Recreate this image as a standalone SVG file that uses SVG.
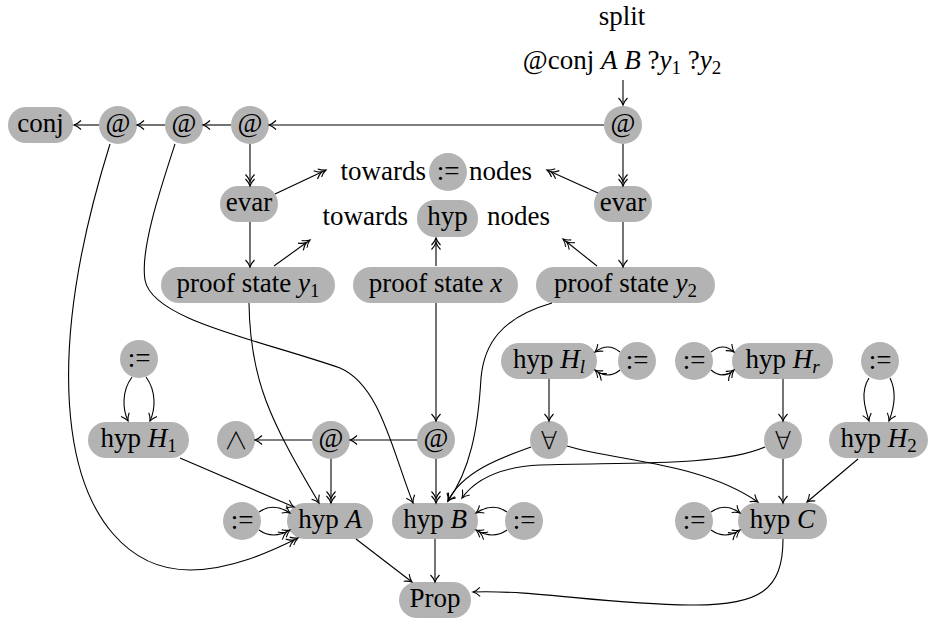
<svg xmlns="http://www.w3.org/2000/svg" width="929" height="618" viewBox="0 0 929 618">
<style>
.n{fill:#b3b3b3;stroke:none}
.t{font-family:"Liberation Serif","DejaVu Serif",serif;font-size:27px;fill:#000;text-anchor:middle}
.m{font-family:"DejaVu Sans","Liberation Serif",sans-serif;font-size:25px;font-weight:200}
.w{font-family:"Noto Sans CJK SC","DejaVu Sans",sans-serif;font-size:24px;font-weight:300}
.l{text-anchor:start}
.r{text-anchor:end}
.i{font-style:italic}
.s{font-size:19px}
.e{fill:none;stroke:#000;stroke-width:1.1}
</style>
<defs>
<marker id="a1" markerUnits="userSpaceOnUse" markerWidth="16" markerHeight="14" viewBox="-14 -7 16 14" refX="0" refY="0" orient="auto" overflow="visible">
<path d="M-7,-4.5 C-4.5,-2 -1.8,-0.6 0,0 C-1.8,0.6 -4.5,2 -7,4.5" fill="none" stroke="#000" stroke-width="1.1"/>
</marker>
<marker id="a2" markerUnits="userSpaceOnUse" markerWidth="16" markerHeight="14" viewBox="-14 -7 16 14" refX="0" refY="0" orient="auto" overflow="visible">
<path d="M-7,-4.5 C-4.5,-2 -1.8,-0.6 0,0 C-1.8,0.6 -4.5,2 -7,4.5 M-11.5,-4.5 C-9,-2 -6.3,-0.6 -4.5,0 C-6.3,0.6 -9,2 -11.5,4.5" fill="none" stroke="#000" stroke-width="1.1"/>
</marker>
</defs>

<g id="labels">
<text class="t" x="622" y="25">split</text>
<text class="t" x="622" y="69">@conj <tspan class="i">A</tspan> <tspan class="i">B</tspan> ?<tspan class="i">y</tspan><tspan class="s" dy="5">1</tspan><tspan dy="-5"> ?</tspan><tspan class="i">y</tspan><tspan class="s" dy="5">2</tspan></text>
</g>

<g id="conj"><rect class="n" x="8" y="107" width="65" height="36" rx="18"/><text class="t" x="40.5" y="132">conj</text></g>
<g id="at1"><circle class="n" cx="118" cy="125" r="19"/><text class="t" x="118" y="132">@</text></g>
<g id="at2"><circle class="n" cx="184" cy="125" r="19"/><text class="t" x="184" y="132">@</text></g>
<g id="at3"><circle class="n" cx="250" cy="125" r="19"/><text class="t" x="250" y="132">@</text></g>
<g id="at4"><circle class="n" cx="623" cy="125" r="19"/><text class="t" x="623" y="132">@</text></g>

<g id="evarL"><rect class="n" x="220" y="186" width="58" height="36" rx="18"/><text class="t" x="249" y="211">evar</text></g>
<g id="evarR"><rect class="n" x="594" y="186" width="58" height="36" rx="18"/><text class="t" x="623" y="211">evar</text></g>

<g id="towardsAssign">
<text class="t r" x="426" y="180">towards</text>
<circle class="n" cx="448" cy="172" r="19"/><text class="t" x="448" y="180">:=</text>
<text class="t l" x="469" y="180">nodes</text>
</g>
<g id="towardsHyp">
<text class="t r" x="408" y="225">towards</text>
<rect class="n" x="417" y="200" width="61" height="37" rx="18"/><text class="t" x="447.5" y="225">hyp</text>
<text class="t l" x="487" y="225">nodes</text>
</g>

<g id="psY1"><rect class="n" x="161" y="267" width="174" height="36" rx="18"/><text class="t" x="248" y="292">proof state <tspan class="i">y</tspan><tspan class="s" dy="5">1</tspan></text></g>
<g id="psX"><rect class="n" x="353" y="267" width="165" height="36" rx="18"/><text class="t" x="435.5" y="292">proof state <tspan class="i">x</tspan></text></g>
<g id="psY2"><rect class="n" x="536" y="267" width="179" height="36" rx="18"/><text class="t" x="625.5" y="292">proof state <tspan class="i">y</tspan><tspan class="s" dy="5">2</tspan></text></g>

<g id="ceqTL"><circle class="n" cx="139" cy="359" r="19"/><text class="t" x="139" y="367">:=</text></g>
<g id="hypH1"><rect class="n" x="88" y="422" width="101" height="36" rx="18"/><text class="t" x="138.5" y="447">hyp <tspan class="i">H</tspan><tspan class="s" dy="5">1</tspan></text></g>
<g id="wedge"><circle class="n" cx="236" cy="440" r="19"/><text class="t w" x="236" y="449">∧</text></g>
<g id="atM1"><circle class="n" cx="331" cy="440" r="19"/><text class="t" x="331" y="447">@</text></g>
<g id="atM2"><circle class="n" cx="436" cy="440" r="19"/><text class="t" x="436" y="447">@</text></g>

<g id="ceqA"><circle class="n" cx="242" cy="521" r="19"/><text class="t" x="242" y="529">:=</text></g>
<g id="hypA"><rect class="n" x="287" y="503" width="86" height="36" rx="18"/><text class="t" x="330" y="528">hyp <tspan class="i">A</tspan></text></g>
<g id="hypB"><rect class="n" x="392" y="503" width="86" height="36" rx="18"/><text class="t" x="435" y="528">hyp <tspan class="i">B</tspan></text></g>
<g id="ceqB"><circle class="n" cx="524" cy="521" r="19"/><text class="t" x="524" y="529">:=</text></g>
<g id="prop"><rect class="n" x="399" y="582" width="72" height="36" rx="18"/><text class="t" x="435" y="607">Prop</text></g>

<g id="hypHl"><rect class="n" x="501" y="343" width="96" height="36" rx="18"/><text class="t" x="549" y="368">hyp <tspan class="i">H</tspan><tspan class="s i" dy="5">l</tspan></text></g>
<g id="ceqHl"><circle class="n" cx="637" cy="361" r="19"/><text class="t" x="637" y="369">:=</text></g>
<g id="ceqHr"><circle class="n" cx="694" cy="361" r="19"/><text class="t" x="694" y="369">:=</text></g>
<g id="hypHr"><rect class="n" x="732" y="343" width="101" height="36" rx="18"/><text class="t" x="782.5" y="368">hyp <tspan class="i">H</tspan><tspan class="s i" dy="5">r</tspan></text></g>
<g id="ceqTR"><circle class="n" cx="880" cy="361" r="19"/><text class="t" x="880" y="369">:=</text></g>
<g id="forallL"><circle class="n" cx="549" cy="440" r="19"/><text class="t m" x="549" y="449">∀</text></g>
<g id="forallR"><circle class="n" cx="783" cy="440" r="19"/><text class="t m" x="783" y="449">∀</text></g>
<g id="hypH2"><rect class="n" x="829" y="422" width="99" height="36" rx="18"/><text class="t" x="878.5" y="447">hyp <tspan class="i">H</tspan><tspan class="s" dy="5">2</tspan></text></g>
<g id="ceqC"><circle class="n" cx="694" cy="521" r="19"/><text class="t" x="694" y="529">:=</text></g>
<g id="hypC"><rect class="n" x="738" y="503" width="89" height="36" rx="18"/><text class="t" x="782.5" y="528">hyp <tspan class="i">C</tspan></text></g>

<g id="connectors" class="e">
<path class="e" d="M623,80 V105" marker-end="url(#a1)"/>
<path class="e" d="M604,125 H269" marker-end="url(#a1)"/>
<path class="e" d="M231,125 H203" marker-end="url(#a1)"/>
<path class="e" d="M165,125 H137" marker-end="url(#a1)"/>
<path class="e" d="M99,125 H74" marker-end="url(#a1)"/>
<path class="e" d="M250,144 V186" marker-end="url(#a2)"/>
<path class="e" d="M623,144 V186" marker-end="url(#a2)"/>
<path class="e" d="M275,194 L326,170" marker-end="url(#a2)"/>
<path class="e" d="M598,193 L547,170" marker-end="url(#a2)"/>
<path class="e" d="M250,222 V267" marker-end="url(#a1)"/>
<path class="e" d="M623,222 V267" marker-end="url(#a1)"/>
<path class="e" d="M274,266 L310,240" marker-end="url(#a2)"/>
<path class="e" d="M436,266 V238" marker-end="url(#a2)"/>
<path class="e" d="M597,266 L563,239" marker-end="url(#a2)"/>
<path class="e" d="M436,303 V421" marker-end="url(#a1)"/>
<path class="e" d="M417,440 H350" marker-end="url(#a1)"/>
<path class="e" d="M312,440 H255" marker-end="url(#a1)"/>
<path class="e" d="M331,459 V503" marker-end="url(#a2)"/>
<path class="e" d="M436,459 V503" marker-end="url(#a2)"/>
<path class="e" d="M356,539 L412,582" marker-end="url(#a1)"/>
<path class="e" d="M435,539 V582" marker-end="url(#a1)"/>
<path class="e" d="M783,539 C783,590 760,606 690,605 C600,604 540,590 473,592" marker-end="url(#a1)"/>
<path class="e" d="M132,377 C121,392 123,410 128,421" marker-end="url(#a1)"/>
<path class="e" d="M146,377 C157,392 155,410 150,421" marker-end="url(#a1)"/>
<path class="e" d="M869,378 C860,392 865,408 869,421" marker-end="url(#a1)"/>
<path class="e" d="M890,378 C897,392 894,408 889,421" marker-end="url(#a1)"/>
<path class="e" d="M180,458 L294,507" marker-end="url(#a1)"/>
<path class="e" d="M249,303 C250,380 270,420 319,503" marker-end="url(#a1)"/>
<path class="e" d="M110,144 C80,240 60,340 72,430 C84,520 130,570 190,570 C230,570 270,552 298,538" marker-end="url(#a2)"/>
<path class="e" d="M175,144 C160,190 140,250 145,280 C152,320 260,340 340,368 C380,385 392,450 413,503" marker-end="url(#a1)"/>
<path class="e" d="M259,512 Q273,502 290,513" marker-end="url(#a1)"/>
<path class="e" d="M259,530 Q273,540 290,530" marker-end="url(#a2)"/>
<path class="e" d="M507,512 Q493,502 476,513" marker-end="url(#a1)"/>
<path class="e" d="M507,530 Q493,540 476,530" marker-end="url(#a2)"/>
<path class="e" d="M620,352 Q608,342 595,352" marker-end="url(#a1)"/>
<path class="e" d="M620,370 Q608,380 595,370" marker-end="url(#a2)"/>
<path class="e" d="M711,352 Q723,342 734,352" marker-end="url(#a1)"/>
<path class="e" d="M711,370 Q723,380 734,370" marker-end="url(#a2)"/>
<path class="e" d="M711,512 Q725,502 740,513" marker-end="url(#a1)"/>
<path class="e" d="M711,530 Q725,540 740,530" marker-end="url(#a2)"/>
<path class="e" d="M549,379 V421" marker-end="url(#a1)"/>
<path class="e" d="M783,379 V421" marker-end="url(#a1)"/>
<path class="e" d="M783,459 V503" marker-end="url(#a1)"/>
<path class="e" d="M858,459 L807,502" marker-end="url(#a1)"/>
<path class="e" d="M567,446 C620,462 700,462 758,502" marker-end="url(#a1)"/>
<path class="e" d="M765,447 C720,467 620,462 540,465 C500,467 475,480 462,498" marker-end="url(#a1)"/>
<path class="e" d="M531,447 C500,458 462,472 448,501" marker-end="url(#a1)"/>
<path class="e" d="M552,303 C500,318 484,345 481,378 C478,430 470,470 448,501" marker-end="url(#a1)"/>
</g>
</svg>
